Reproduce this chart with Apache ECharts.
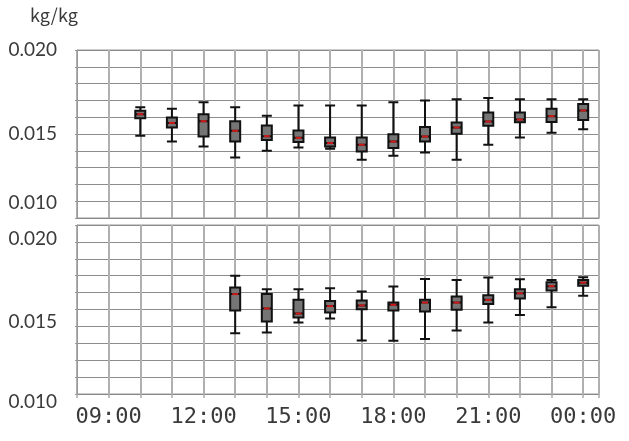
<!DOCTYPE html>
<html>
<head>
<meta charset="utf-8">
<script src="https://cdn.jsdelivr.net/npm/echarts@6/dist/echarts.min.js"></script>
<style>
  html, body { margin: 0; padding: 0; background: #fff; }
  #chart { width: 629px; height: 441px; }
</style>
</head>
<body>
<div id="chart"></div>
<script>
// hours (24 = 00:00 of next day)
var topHours = [10, 11, 12, 13, 14, 15, 16, 17, 18, 19, 20, 21, 22, 23, 24];
var topMin = [0.01489, 0.01455, 0.01426, 0.01360, 0.01400, 0.01420, 0.01412, 0.01347, 0.01370, 0.01390, 0.01347, 0.01436, 0.01479, 0.01507, 0.01529];
var topQ1  = [0.01594, 0.01539, 0.01485, 0.01455, 0.01465, 0.01453, 0.01426, 0.01396, 0.01416, 0.01455, 0.01501, 0.01549, 0.01570, 0.01572, 0.01584];
var topMed = [0.01618, 0.01566, 0.01576, 0.01519, 0.01487, 0.01477, 0.01446, 0.01436, 0.01455, 0.01485, 0.01539, 0.01574, 0.01586, 0.01606, 0.01640];
var topQ3  = [0.01638, 0.01598, 0.01618, 0.01576, 0.01550, 0.01521, 0.01479, 0.01479, 0.01499, 0.01541, 0.01568, 0.01628, 0.01628, 0.01650, 0.01679];
var topMax = [0.01659, 0.01650, 0.01689, 0.01659, 0.01608, 0.01669, 0.01669, 0.01669, 0.01689, 0.01699, 0.01707, 0.01715, 0.01707, 0.01707, 0.01707];

var botHours = [13, 14, 15, 16, 17, 18, 19, 20, 21, 22, 23, 24];
var botMin = [0.01360, 0.01364, 0.01423, 0.01447, 0.01317, 0.01315, 0.01325, 0.01376, 0.01423, 0.01467, 0.01514, 0.01581];
var botQ1  = [0.01494, 0.01429, 0.01453, 0.01482, 0.01502, 0.01494, 0.01488, 0.01498, 0.01533, 0.01565, 0.01612, 0.01640];
var botMed = [0.01591, 0.01506, 0.01476, 0.01520, 0.01524, 0.01528, 0.01541, 0.01541, 0.01557, 0.01596, 0.01638, 0.01659];
var botQ3  = [0.01630, 0.01591, 0.01557, 0.01551, 0.01553, 0.01541, 0.01557, 0.01577, 0.01585, 0.01620, 0.01661, 0.01675];
var botMax = [0.01699, 0.01620, 0.01620, 0.01626, 0.01606, 0.01636, 0.01681, 0.01675, 0.01689, 0.01679, 0.01675, 0.01691];

var xLabelHours = [9, 12, 15, 18, 21, 24];
var yLabelValues = [0.010, 0.015, 0.020];

function boxData(h, mn, q1, md, q3, mx) {
  return h.map(function (x, i) { return [x, mn[i], q1[i], md[i], q3[i], mx[i]]; });
}
function medData(h, md) {
  return h.map(function (x, i) { return [x, md[i]]; });
}

var yFont = "Lato, 'DejaVu Sans Condensed', sans-serif";
var ySize = 19;

// shifts: label offsets (px, + = down) so the tick labels sit like the original
function yAxisFor(gi, shifts) {
  var rich = {};
  Object.keys(shifts).forEach(function (k) {
    var p = shifts[k];
    rich['s' + k] = {
      fontFamily: yFont, fontSize: ySize, color: '#3a3a3a',
      padding: p > 0 ? [p * 2, 0, 0, 0] : [0, 0, -p * 2, 0]
    };
  });
  return {
    type: 'value', gridIndex: gi, min: 0.010, max: 0.020, interval: 0.001,
    axisLine: { show: true, lineStyle: { color: '#999', width: 1 } },
    axisTick: { show: true, length: 2, lineStyle: { color: '#999' } },
    splitLine: { show: true, lineStyle: { color: '#8c8c8c', width: 1 } },
    axisLabel: {
      margin: 20, fontFamily: yFont, fontSize: ySize, color: '#3a3a3a',
      formatter: function (v) {
        var k = Math.round(v * 1000);
        for (var i = 0; i < yLabelValues.length; i++) {
          if (Math.round(yLabelValues[i] * 1000) === k) {
            var t = (k / 1000).toFixed(3);
            return shifts[k] !== undefined ? '{s' + k + '|' + t + '}' : t;
          }
        }
        return '';
      },
      rich: rich
    }
  };
}

function xAxisFor(gi, showLabels) {
  return {
    type: 'value', gridIndex: gi, min: 8, max: 24.5, interval: 1,
    axisLine: { show: true, lineStyle: { color: '#888', width: 1 } },
    axisTick: { show: showLabels, length: 4, lineStyle: { color: '#aaa', width: 1.5 } },
    splitLine: { show: true, lineStyle: { color: '#b0b0b0', width: 2 } },
    axisLabel: {
      show: showLabels, margin: 12,
      fontFamily: "'DejaVu Sans Mono', monospace", fontSize: 22, color: '#3a3a3a',
      formatter: function (v) {
        if (xLabelHours.indexOf(v) < 0) return '';
        var h = v % 24;
        return (h < 10 ? '0' : '') + h + ':00';
      }
    }
  };
}

var boxStyle = { color: '#757575', borderColor: '#111', borderWidth: 2 };

var myChart = echarts.init(document.getElementById('chart'));
var option = {
  animation: false,
  title: {
    text: 'kg/kg', left: 25, top: 1,
    textStyle: { fontFamily: "'Noto Sans CJK JP', sans-serif", fontSize: 18, fontWeight: 'normal', color: '#3a3a3a' }
  },
  grid: [
    { left: 77, right: 30, top: 50, height: 168, show: true, borderColor: '#999', borderWidth: 1 },
    { left: 77, right: 30, top: 225, height: 169, show: true, borderColor: '#999', borderWidth: 1 }
  ],
  xAxis: [xAxisFor(0, false), xAxisFor(1, true)],
  yAxis: [yAxisFor(0, { 10: -15 }), yAxisFor(1, { 20: 14, 15: 12, 10: 8 })],
  series: [
    {
      type: 'boxplot', xAxisIndex: 0, yAxisIndex: 0,
      boxWidth: [10, 10], itemStyle: boxStyle,
      data: boxData(topHours, topMin, topQ1, topMed, topQ3, topMax)
    },
    {
      type: 'boxplot', xAxisIndex: 1, yAxisIndex: 1,
      boxWidth: [10, 10], itemStyle: boxStyle,
      data: boxData(botHours, botMin, botQ1, botMed, botQ3, botMax)
    },
    {
      type: 'scatter', xAxisIndex: 0, yAxisIndex: 0,
      symbol: 'rect', symbolSize: [6, 2], itemStyle: { color: '#ff1a1a' },
      data: medData(topHours, topMed), z: 5
    },
    {
      type: 'scatter', xAxisIndex: 1, yAxisIndex: 1,
      symbol: 'rect', symbolSize: [6, 2], itemStyle: { color: '#ff1a1a' },
      data: medData(botHours, botMed), z: 5
    }
  ]
};
myChart.setOption(option);
</script>
</body>
</html>
